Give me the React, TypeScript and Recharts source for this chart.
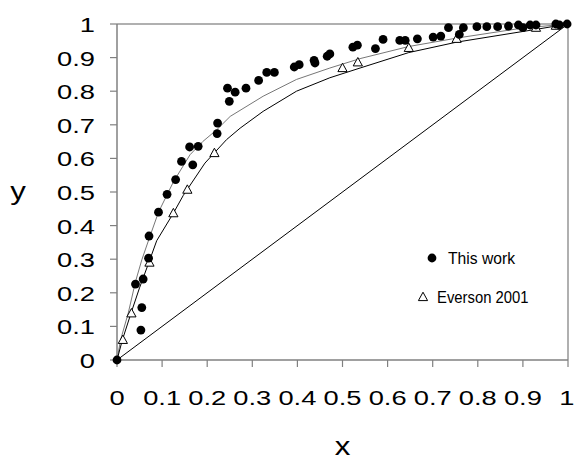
import React from 'react';
import { ScatterChart, Scatter, XAxis, YAxis, ReferenceLine } from 'recharts';

// Axis ticks
const xTicks = [0, 0.1, 0.2, 0.3, 0.4, 0.5, 0.6, 0.7, 0.8, 0.9, 1];
const yTicks = [0, 0.1, 0.2, 0.3, 0.4, 0.5, 0.6, 0.7, 0.8, 0.9, 1];
const tickLabels = ['0', '0.1', '0.2', '0.3', '0.4', '0.5', '0.6', '0.7', '0.8', '0.9', '1'];

// "This work" points
const thisWorkX = [0, 0.053, 0.055, 0.041, 0.058, 0.07, 0.071, 0.092, 0.111, 0.13, 0.143, 0.168, 0.161, 0.18, 0.222, 0.223, 0.249, 0.245, 0.262, 0.286, 0.314, 0.332, 0.349, 0.393, 0.404, 0.437, 0.439, 0.466, 0.472, 0.523, 0.533, 0.573, 0.59, 0.627, 0.639, 0.666, 0.701, 0.718, 0.735, 0.759, 0.768, 0.798, 0.82, 0.844, 0.868, 0.89, 0.9, 0.916, 0.929, 0.973, 0.981, 0.998];
const thisWorkY = [0, 0.089, 0.156, 0.226, 0.241, 0.303, 0.369, 0.44, 0.493, 0.537, 0.591, 0.581, 0.634, 0.636, 0.674, 0.705, 0.77, 0.809, 0.797, 0.809, 0.832, 0.856, 0.856, 0.872, 0.879, 0.892, 0.884, 0.904, 0.911, 0.931, 0.937, 0.927, 0.954, 0.951, 0.951, 0.956, 0.961, 0.964, 0.989, 0.969, 0.989, 0.992, 0.992, 0.992, 0.994, 0.997, 0.989, 0.997, 0.997, 1.0, 0.997, 1.0];

// "Everson 2001" points
const eversonX = [0.013, 0.032, 0.072, 0.125, 0.156, 0.216, 0.5, 0.534, 0.647, 0.753, 0.929, 0.973];
const eversonY = [0.06, 0.139, 0.29, 0.437, 0.507, 0.616, 0.869, 0.886, 0.929, 0.956, 0.989, 0.995];

// Fitted curve through "This work" (grey)
const upperCurveX = [0, 0.008, 0.025, 0.041, 0.055, 0.073, 0.092, 0.125, 0.162, 0.19, 0.221, 0.251, 0.324, 0.398, 0.472, 0.539, 0.647, 0.753, 0.9, 1];
const upperCurveY = [0, 0.06, 0.14, 0.233, 0.298, 0.368, 0.44, 0.53, 0.611, 0.65, 0.685, 0.725, 0.785, 0.835, 0.869, 0.897, 0.933, 0.958, 0.988, 1];

// Fitted curve through "Everson 2001" (black)
const lowerCurveX = [0, 0.012, 0.031, 0.05, 0.07, 0.088, 0.125, 0.147, 0.195, 0.243, 0.273, 0.324, 0.398, 0.472, 0.539, 0.647, 0.753, 0.929, 1];
const lowerCurveY = [0, 0.06, 0.139, 0.215, 0.288, 0.355, 0.437, 0.49, 0.586, 0.656, 0.69, 0.74, 0.8, 0.84, 0.869, 0.915, 0.946, 0.984, 1];

// Diagonal y = x
const diagonalX = [0, 1];
const diagonalY = [0, 1];

const zip = (xs: number[], ys: number[]) => xs.map((x, i) => ({ x, y: ys[i] }));

const thisWork = zip(thisWorkX, thisWorkY);
const everson = zip(eversonX, eversonY);
const upperCurve = zip(upperCurveX, upperCurveY);
const lowerCurve = zip(lowerCurveX, lowerCurveY);
const diagonal = zip(diagonalX, diagonalY);

const FONT = '"Liberation Sans", Arial, sans-serif';
const STRETCH = 1.3;
const CHART_W = 574;

const XTick = (props: any) => {
  const { x, y, payload } = props;
  const label = tickLabels[payload.index];
  const halfW = (label.length * 0.45 * 21 * STRETCH) / 2;
  const cx = Math.min(x, CHART_W - 1 - halfW);
  return (
    <text
      transform={`translate(${cx},${y + 36}) scale(${STRETCH},1)`}
      textAnchor="middle"
      fontFamily={FONT}
      fontSize={21}
      fill="#000"
    >
      {label}
    </text>
  );
};

const YTick = (props: any) => {
  const { x, y, payload } = props;
  return (
    <text
      transform={`translate(${x - 13},${y + 8}) scale(${STRETCH},1)`}
      textAnchor="end"
      fontFamily={FONT}
      fontSize={21}
      fill="#000"
    >
      {tickLabels[payload.index]}
    </text>
  );
};

const XTitle = (props: any) => {
  const vb = props.viewBox;
  return (
    <text
      transform={`translate(${vb.x + vb.width / 2},${vb.y + 95}) scale(1.2,1)`}
      textAnchor="middle"
      fontFamily={FONT}
      fontSize={26}
      fill="#000"
    >
      x
    </text>
  );
};

const YTitle = (props: any) => {
  const vb = props.viewBox;
  return (
    <text
      transform={`translate(${vb.x + 18},${vb.y + vb.height / 2 + 8}) scale(1.2,1)`}
      textAnchor="middle"
      fontFamily={FONT}
      fontSize={26}
      fill="#000"
    >
      y
    </text>
  );
};

const Dot = (props: any) => {
  const { cx, cy } = props;
  return <circle cx={cx} cy={cy} r={4.4} fill="#000" />;
};

const Tri = (props: any) => {
  const { cx, cy } = props;
  const pts = `${cx},${cy - 4.8} ${cx - 4.6},${cy + 3.6} ${cx + 4.6},${cy + 3.6}`;
  return <polygon points={pts} fill="#fff" stroke="#000" strokeWidth={1} />;
};

const NoShape = () => <g />;

export default function App() {
  return (
    <div style={{ position: 'absolute', left: 0, top: 0, width: 574, height: 459, background: '#fff' }}>
      <ScatterChart width={574} height={459} margin={{ top: 24, right: 6, bottom: 0, left: 0 }}>
        <XAxis
          type="number"
          dataKey="x"
          domain={[0, 1]}
          ticks={xTicks}
          interval={0}
          height={99}
          tickSize={7}
          axisLine={{ stroke: '#808080', strokeWidth: 1.5 }}
          tickLine={{ stroke: '#808080', strokeWidth: 1.2 }}
          tick={<XTick />}
          label={<XTitle />}
        />
        <YAxis
          type="number"
          dataKey="y"
          domain={[0, 1]}
          ticks={yTicks}
          interval={0}
          width={117}
          tickSize={7}
          axisLine={{ stroke: '#808080', strokeWidth: 1.5 }}
          tickLine={{ stroke: '#808080', strokeWidth: 1.2 }}
          tick={<YTick />}
          label={<YTitle />}
        />
        <ReferenceLine y={1} stroke="#b0b0b0" strokeWidth={2} />
        <ReferenceLine x={1} stroke="#b0b0b0" strokeWidth={2} />
        <Scatter data={diagonal} line={{ stroke: '#000', strokeWidth: 1 }} shape={<NoShape />} isAnimationActive={false} />
        <Scatter data={upperCurve} line={{ stroke: '#777', strokeWidth: 1 }} shape={<NoShape />} isAnimationActive={false} />
        <Scatter data={lowerCurve} line={{ stroke: '#000', strokeWidth: 1 }} shape={<NoShape />} isAnimationActive={false} />
        <Scatter data={everson} shape={<Tri />} isAnimationActive={false} />
        <Scatter data={thisWork} shape={<Dot />} isAnimationActive={false} />
      </ScatterChart>
      <svg width={574} height={459} style={{ position: 'absolute', left: 0, top: 0, pointerEvents: 'none' }}>
        <circle cx={432} cy={258} r={4.4} fill="#000" />
        <text transform="translate(448,264) scale(0.95,1)" fontFamily={FONT} fontSize={16.5} fill="#000">This work</text>
        <polygon points="423,292.2 418.4,300.6 427.6,300.6" fill="#fff" stroke="#000" strokeWidth={1} />
        <text transform="translate(437,303) scale(0.9,1)" fontFamily={FONT} fontSize={16.5} fill="#000">Everson 2001</text>
      </svg>
    </div>
  );
}
